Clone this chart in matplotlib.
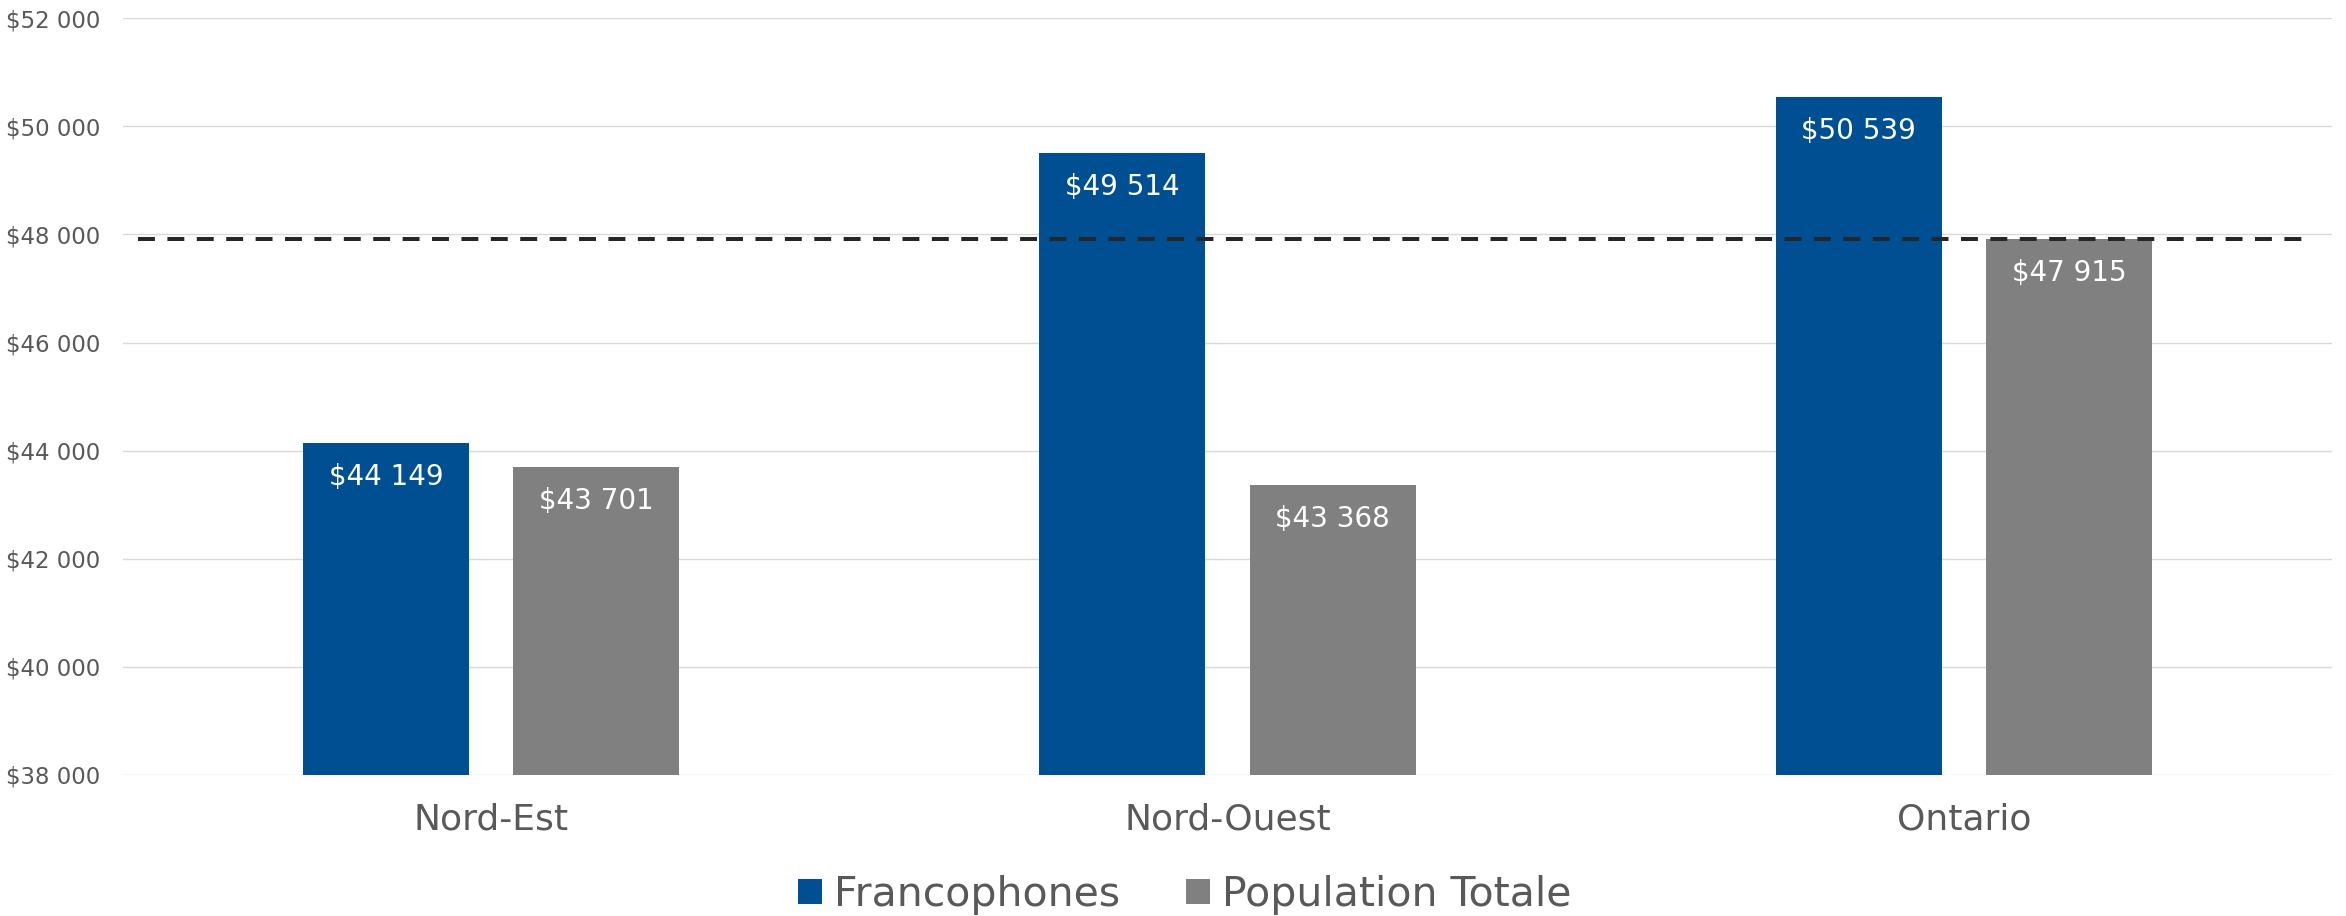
import matplotlib.pyplot as plt
import numpy as np

regions = ["Nord-Est", "Nord-Ouest", "Ontario"]
francophones = [44149, 49514, 50539]
population_totale = [43701, 43368, 47915]
series_names = ["Francophones", "Population Totale"]
yticks = [38000, 40000, 42000, 44000, 46000, 48000, 50000, 52000]

blue = "#004F93"
grey = "#808080"
text_grey = "#595959"

plt.rcParams['font.family'] = ['DejaVu Sans']

fig = plt.figure(figsize=(23.46, 9.16), dpi=100)
ax = fig.add_axes([0.0524, 0.154, 0.9416, 0.826])

x = np.arange(len(regions))
w = 0.2255
off = w / 2 + 0.03

b1 = ax.bar(x - off, francophones, w, color=blue, label=series_names[0], zorder=2)
b2 = ax.bar(x + off, population_totale, w, color=grey, label=series_names[1], zorder=2)

# ligne de référence : population totale de l'Ontario
ax.axhline(population_totale[2], xmin=0.007, xmax=0.99, color="#262626",
           lw=2.9, dashes=(4.2, 3.1), zorder=3)

def fmt(v):
    return "$" + f"{v:,}".replace(",", " ")

for bars, vals in [(b1, francophones), (b2, population_totale)]:
    for rect, v in zip(bars, vals):
        ax.annotate(fmt(v), (rect.get_x() + rect.get_width() / 2, v),
                    xytext=(0, -24.5), textcoords="offset points",
                    ha="center", va="center", color="white", fontsize=20, zorder=4)

ax.set_xlim(-0.5, 2.5)
ax.set_ylim(38000, 52000)
ax.set_yticks(yticks)
ax.set_yticklabels([fmt(v) for v in yticks])
ax.set_xticks(x)
ax.set_xticklabels(regions)
ax.tick_params(axis="y", length=0, pad=16, labelsize=16.5, labelcolor=text_grey)
ax.tick_params(axis="x", length=0, pad=20, labelsize=26, labelcolor=text_grey)
ax.grid(axis="y", color="#D9D9D9", lw=1.0, zorder=0)
ax.set_axisbelow(True)
for s in ax.spines.values():
    s.set_visible(False)

leg = fig.legend(loc="center", bbox_to_anchor=(0.505, 0.023), ncol=2, frameon=False,
                 fontsize=29.5, handlelength=0.59, handleheight=0.57,
                 handletextpad=0.3, columnspacing=1.6, borderpad=0)
for t in leg.get_texts():
    t.set_color(text_grey)

fig.savefig("out.png", dpi=100)
